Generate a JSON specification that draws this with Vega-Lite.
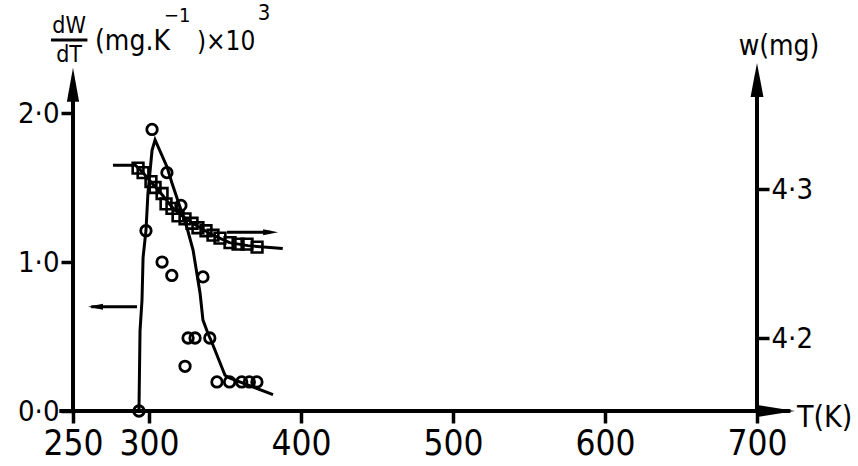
{
  "$schema": "https://vega.github.io/schema/vega-lite/v6.json",
  "width": 684,
  "height": 365,
  "autosize": {"type": "none"},
  "padding": {"left": 73, "top": 46, "right": 101, "bottom": 55},
  "background": "white",
  "data": {"values": [{}]},
  "config": {
    "view": {"stroke": null},
    "font": "DejaVu Sans Condensed, DejaVu Sans, sans-serif",
    "axis": {
      "labelFont": "DejaVu Sans Condensed, DejaVu Sans, sans-serif",
      "labelColor": "black",
      "tickColor": "black",
      "grid": false,
      "domain": false,
      "title": null
    },
    "text": {"font": "DejaVu Sans Condensed, DejaVu Sans, sans-serif", "color": "black"}
  },
  "datasets": {
    "rate": [
      {"T": 293.4, "dWdT": 0.0},
      {"T": 298.0, "dWdT": 1.21},
      {"T": 302.0, "dWdT": 1.89},
      {"T": 308.6, "dWdT": 1.0},
      {"T": 311.8, "dWdT": 1.6},
      {"T": 315.0, "dWdT": 0.91},
      {"T": 321.0, "dWdT": 1.38},
      {"T": 323.7, "dWdT": 0.3},
      {"T": 325.7, "dWdT": 0.49},
      {"T": 330.3, "dWdT": 0.49},
      {"T": 335.5, "dWdT": 0.9},
      {"T": 340.0, "dWdT": 0.49},
      {"T": 344.7, "dWdT": 0.195},
      {"T": 353.0, "dWdT": 0.195},
      {"T": 361.0, "dWdT": 0.195},
      {"T": 366.0, "dWdT": 0.195},
      {"T": 371.0, "dWdT": 0.195}
    ],
    "rate_fit": [
      {"T": 293.4, "dWdT": 0.0},
      {"T": 294.1, "dWdT": 0.54},
      {"T": 295.4, "dWdT": 0.745},
      {"T": 296.1, "dWdT": 1.03},
      {"T": 298.0, "dWdT": 1.21},
      {"T": 299.3, "dWdT": 1.46},
      {"T": 302.0, "dWdT": 1.75},
      {"T": 304.0, "dWdT": 1.82},
      {"T": 311.8, "dWdT": 1.64},
      {"T": 315.1, "dWdT": 1.53},
      {"T": 320.4, "dWdT": 1.37},
      {"T": 325.0, "dWdT": 1.23},
      {"T": 329.0, "dWdT": 1.08},
      {"T": 333.6, "dWdT": 0.79},
      {"T": 335.5, "dWdT": 0.61},
      {"T": 338.8, "dWdT": 0.52},
      {"T": 341.4, "dWdT": 0.46},
      {"T": 350.0, "dWdT": 0.24},
      {"T": 353.3, "dWdT": 0.22},
      {"T": 381.6, "dWdT": 0.11}
    ],
    "mass": [
      {"T": 292.8, "w": 4.314},
      {"T": 296.1, "w": 4.311},
      {"T": 301.3, "w": 4.305},
      {"T": 304.0, "w": 4.301},
      {"T": 308.6, "w": 4.297},
      {"T": 311.2, "w": 4.29},
      {"T": 315.1, "w": 4.287},
      {"T": 319.1, "w": 4.282},
      {"T": 323.7, "w": 4.28},
      {"T": 328.3, "w": 4.277},
      {"T": 332.2, "w": 4.274},
      {"T": 337.5, "w": 4.272},
      {"T": 342.1, "w": 4.269},
      {"T": 346.7, "w": 4.267},
      {"T": 353.3, "w": 4.264},
      {"T": 358.6, "w": 4.263},
      {"T": 364.5, "w": 4.263},
      {"T": 371.1, "w": 4.261}
    ],
    "mass_fit": [
      {"T": 276.3, "w": 4.316},
      {"T": 291.0, "w": 4.316},
      {"T": 296.0, "w": 4.311},
      {"T": 301.0, "w": 4.305},
      {"T": 308.0, "w": 4.297},
      {"T": 315.0, "w": 4.288},
      {"T": 323.0, "w": 4.281},
      {"T": 332.0, "w": 4.275},
      {"T": 342.0, "w": 4.269},
      {"T": 353.0, "w": 4.264},
      {"T": 365.0, "w": 4.262},
      {"T": 388.0, "w": 4.26}
    ]
  },
  "layer": [
    {
      "layer": [
        {
          "data": {"name": "rate_fit"},
          "mark": {"type": "line", "color": "black", "strokeWidth": 3},
          "encoding": {
            "x": {
              "field": "T", "type": "quantitative",
              "scale": {"domain": [250, 700], "nice": false, "zero": false},
              "axis": {
                "values": [250, 300, 400, 500, 600, 700],
                "tickSize": 12, "tickWidth": 3.5,
                "labelFontSize": 35, "labelPadding": 3,
                "labelFlush": false
              }
            },
            "y": {
              "field": "dWdT", "type": "quantitative",
              "scale": {"domain": [0, 2.45], "nice": false, "zero": false},
              "axis": {
                "orient": "left",
                "values": [0, 1, 2],
                "tickSize": 12, "tickWidth": 3.5,
                "labelFontSize": 29, "labelPadding": 2,
                "labelExpr": "replace(format(datum.value, '.1f'), '.', '·')"
              }
            }
          }
        },
        {
          "data": {"name": "rate"},
          "mark": {"type": "point", "shape": "circle", "filled": false, "color": "black", "strokeWidth": 2.8, "size": 110, "opacity": 1},
          "encoding": {
            "x": {"field": "T", "type": "quantitative"},
            "y": {"field": "dWdT", "type": "quantitative"}
          }
        },
        {
          "mark": {"type": "rule", "color": "black", "strokeWidth": 4},
          "encoding": {"x": {"datum": 241}, "x2": {"datum": 722}, "y": {"datum": 0}}
        },
        {
          "mark": {"type": "point", "shape": "M1,0L-1,-0.32L-1,0.32Z", "filled": true, "color": "black", "size": 1444, "opacity": 1},
          "encoding": {"x": {"datum": 712.5}, "y": {"datum": 0}}
        },
        {
          "mark": {"type": "rule", "color": "black", "strokeWidth": 4},
          "encoding": {"x": {"datum": 250}, "y": {"datum": 0}, "y2": {"datum": 2.2}}
        },
        {
          "mark": {"type": "point", "shape": "M0,-1L0.36,1L-0.36,1Z", "filled": true, "color": "black", "size": 1156, "opacity": 1},
          "encoding": {"x": {"datum": 250}, "y": {"datum": 2.19}}
        },
        {
          "mark": {"type": "rule", "color": "black", "strokeWidth": 4},
          "encoding": {"x": {"datum": 700}, "y": {"datum": 0}, "y2": {"datum": 2.15}}
        },
        {
          "mark": {"type": "point", "shape": "M0,-1L0.38,1L-0.38,1Z", "filled": true, "color": "black", "size": 1156, "opacity": 1},
          "encoding": {"x": {"datum": 700}, "y": {"datum": 2.221}}
        },
        {
          "mark": {"type": "rule", "color": "black", "strokeWidth": 3},
          "encoding": {"x": {"datum": 262}, "x2": {"datum": 292.1}, "y": {"datum": 0.7}}
        },
        {
          "mark": {"type": "point", "shape": "M-1,0L1,-0.4L1,0.4Z", "filled": true, "color": "black", "size": 225, "opacity": 1},
          "encoding": {"x": {"datum": 264.8}, "y": {"datum": 0.7}}
        },
        {
          "mark": {"type": "rule", "color": "black", "strokeWidth": 3},
          "encoding": {"x": {"datum": 351.3}, "x2": {"datum": 380}, "y": {"datum": 1.2}}
        },
        {
          "mark": {"type": "point", "shape": "M1,0L-1,-0.4L-1,0.4Z", "filled": true, "color": "black", "size": 225, "opacity": 1},
          "encoding": {"x": {"datum": 380}, "y": {"datum": 1.2}}
        },
        {
          "mark": {"type": "text", "text": "dW", "fontSize": 23, "align": "center", "baseline": "middle"},
          "encoding": {"x": {"datum": 247.4}, "y": {"datum": 2.585}}
        },
        {
          "mark": {"type": "rule", "color": "black", "strokeWidth": 3},
          "encoding": {"x": {"datum": 235.5}, "x2": {"datum": 259.5}, "y": {"datum": 2.49}}
        },
        {
          "mark": {"type": "text", "text": "dT", "fontSize": 23, "align": "center", "baseline": "middle"},
          "encoding": {"x": {"datum": 247.4}, "y": {"datum": 2.39}}
        },
        {
          "mark": {"type": "text", "text": "(mg.K", "fontSize": 28, "align": "left", "baseline": "middle"},
          "encoding": {"x": {"datum": 264.5}, "y": {"datum": 2.48}}
        },
        {
          "mark": {"type": "text", "text": "−1", "fontSize": 20, "align": "left", "baseline": "middle"},
          "encoding": {"x": {"datum": 309.8}, "y": {"datum": 2.65}}
        },
        {
          "mark": {"type": "text", "text": ")×10", "fontSize": 26, "align": "left", "baseline": "middle"},
          "encoding": {"x": {"datum": 331.5}, "y": {"datum": 2.48}}
        },
        {
          "mark": {"type": "text", "text": "3", "fontSize": 22, "align": "left", "baseline": "middle"},
          "encoding": {"x": {"datum": 371.5}, "y": {"datum": 2.67}}
        },
        {
          "mark": {"type": "text", "text": "w(mg)", "fontSize": 28, "align": "center", "baseline": "middle"},
          "encoding": {"x": {"datum": 714.5}, "y": {"datum": 2.443}}
        },
        {
          "mark": {"type": "text", "text": "T(K)", "fontSize": 30, "align": "left", "baseline": "middle"},
          "encoding": {"x": {"datum": 726.3}, "y": {"datum": -0.05}}
        }
      ]
    },
    {
      "layer": [
        {
          "data": {"name": "mass_fit"},
          "mark": {"type": "line", "color": "black", "strokeWidth": 3},
          "encoding": {
            "x": {"field": "T", "type": "quantitative"},
            "y": {
              "field": "w", "type": "quantitative",
              "scale": {"domain": [4.151, 4.396], "nice": false, "zero": false},
              "axis": {
                "orient": "right",
                "values": [4.2, 4.3],
                "tickSize": 12, "tickWidth": 3.5,
                "labelFontSize": 29, "labelPadding": 2,
                "labelExpr": "replace(format(datum.value, '.1f'), '.', '·')"
              }
            }
          }
        },
        {
          "data": {"name": "mass"},
          "mark": {"type": "point", "shape": "square", "filled": false, "color": "black", "strokeWidth": 2.6, "size": 115, "opacity": 1},
          "encoding": {
            "x": {"field": "T", "type": "quantitative"},
            "y": {"field": "w", "type": "quantitative"}
          }
        }
      ]
    }
  ],
  "resolve": {"scale": {"y": "independent"}}
}
